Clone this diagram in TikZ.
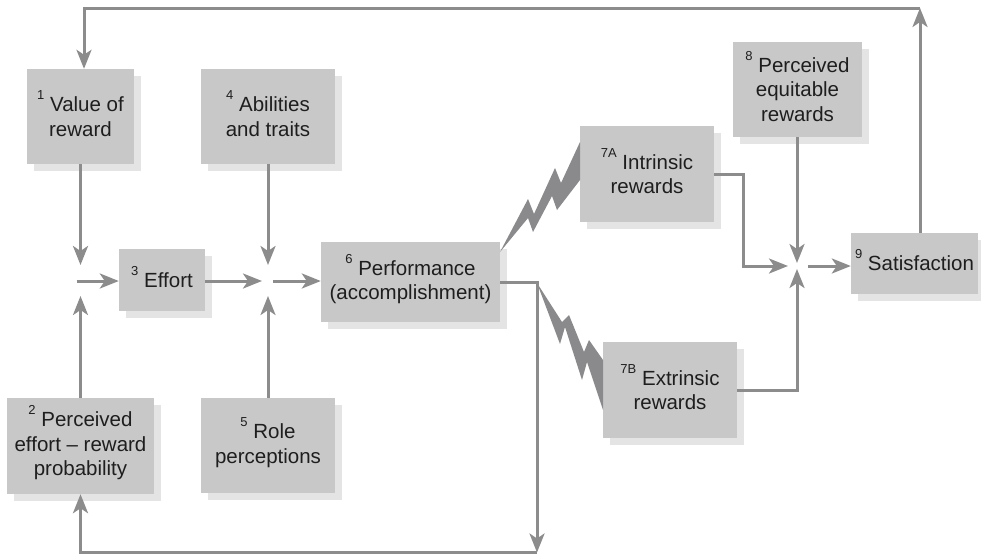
\documentclass[tikz,border=0pt]{standalone}
\usepackage{fontspec}
\setmainfont{Liberation Sans}
\usetikzlibrary{arrows.meta,shadows}
\definecolor{boxgray}{HTML}{C8C8C8}
\definecolor{shadowgray}{HTML}{E4E4E4}
\definecolor{linegray}{HTML}{8C8C8C}
\definecolor{boltgray}{HTML}{8A8A8C}
\definecolor{textgray}{HTML}{1E1E1E}
\newcommand\supn[1]{\smash{\raisebox{12pt}{\fontsize{13}{13}\selectfont #1}}}
\begin{document}
\begin{tikzpicture}[x=1pt,y=-1pt,
  box/.style={fill=boxgray, draw=none, inner sep=0pt, align=center, text=textgray,
    font=\fontsize{20.5}{24.5}\selectfont,
    drop shadow={shadow xshift=7pt, shadow yshift=-7pt, fill=shadowgray, opacity=1}},
  conn/.style={draw=linegray, line width=3pt},
  arr/.style={conn, -{Stealth[length=19pt,width=15pt,inset=5pt]}},
  bolt/.style={fill=boltgray, draw=none}]
\useasboundingbox (0,0) rectangle (981,555);

% boxes
\node[box, minimum width=107pt, minimum height=95pt] (b1) at (80.5,116.5) {\supn{1} Value of\\reward};
\node[box, minimum width=147pt, minimum height=96pt] (b2) at (80.5,446) {\supn{2} Perceived\\effort -- reward\\probability};
\node[box, minimum width=86pt, minimum height=62pt] (b3) at (162,280) {\supn{3} Effort};
\node[box, minimum width=134pt, minimum height=95pt] (b4) at (268,116.5) {\supn{4} Abilities\\and traits};
\node[box, minimum width=134pt, minimum height=95pt] (b5) at (268,445.5) {\supn{5} Role\\perceptions};
\node[box, minimum width=179pt, minimum height=80pt] (b6) at (410.5,282) {\supn{6} Performance\\(accomplishment)};
\node[box, minimum width=134pt, minimum height=96pt] (b7a) at (647,174) {\supn{7A} Intrinsic\\rewards};
\node[box, minimum width=134pt, minimum height=96pt] (b7b) at (670,390) {\supn{7B} Extrinsic\\rewards};
\node[box, minimum width=129pt, minimum height=95pt] (b8) at (797.5,89.5) {\supn{8} Perceived\\equitable\\rewards};
\node[box, minimum width=127pt, minimum height=61pt] (b9) at (914.5,263.5) {\supn{9} Satisfaction};

% junctions and corners
\coordinate (j1) at (80.5,281);
\coordinate (j2) at (268,281);
\coordinate (j3) at (797,266);
\coordinate (k7a) at (743,266);
\coordinate (tr) at (920,8);
\coordinate (tl) at (84,8);
\coordinate (br) at (537,552.5);
\coordinate (bl) at (80.5,552.5);

% bolts
\fill[bolt] (500,252) -- (528,199) -- (534,214) -- (555,168) -- (561,183) -- (580,142)
  -- (580,180) -- (557,210) -- (552,196) -- (533,232) -- (528,218) -- cycle;
\fill[bolt] (537,283) -- (560,344) -- (565,327) -- (582,380) -- (587,362) -- (603,410)
  -- (603,360) -- (589,340) -- (584,352) -- (569,315) -- (562,322) -- cycle;

% junction 1
\draw[arr] (b1.south) -- ([yshift=16pt]j1);
\draw[arr] (b2.north) -- ([yshift=-15pt]j1);
\draw[arr] ([xshift=-4pt]j1) -- (b3.west |- j1);
% junction 2
\draw[arr] (b3.east |- j2) -- ([xshift=-6pt]j2);
\draw[arr] (b4.south) -- ([yshift=16pt]j2);
\draw[arr] (b5.north) -- ([yshift=-15pt]j2);
\draw[arr] ([xshift=5pt]j2) -- (b6.west |- j2);
% junction 3
\draw[arr] (b8.south -| j3) -- ([yshift=3pt]j3);
\draw[arr] (b7a.east) -| (k7a) -- ([xshift=-9pt]j3);
\draw[arr] (b7b.east) -| ([yshift=-3pt]j3);
\draw[arr] ([xshift=11pt]j3) -- (b9.west |- j3);
% feedback loops
\draw[arr] (b9.north -| tr) -- (tr);
\draw[arr] (tr) -- (tl) -- (b1.north -| tl);
\draw[arr] (b6.east) -| (br);
\draw[arr] (br) -- (bl) -- (b2.south);
\end{tikzpicture}
\end{document}
